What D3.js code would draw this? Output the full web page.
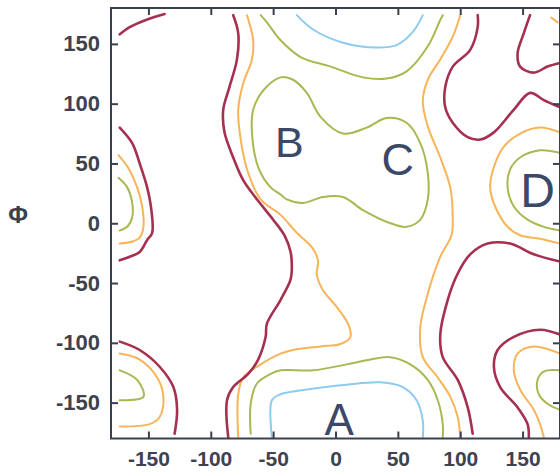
<!DOCTYPE html>
<html>
<head>
<meta charset="utf-8">
<script src="https://cdn.jsdelivr.net/npm/d3@7"></script>
<style>
  body { margin: 0; background: #fff; }
  svg { display: block; }
</style>
</head>
<body>
<svg id="chart" width="560" height="474"></svg>
<script>
// tick values
var xTicks = [-150, -100, -50, 0, 50, 100, 150];
var yTicks = [-150, -100, -50, 0, 50, 100, 150];

// contour lines, [x, y] in degrees
var maroonLines = [
  [[-173,158],[-165,164],[-152,170],[-137,175]],
  [[-173,80],[-163,67],[-157,50],[-151,30],[-148,14],[-147,-8],[-151,-14],[-157,-24],[-165,-28],[-173,-31]],
  [[-82,174],[-78,159],[-79,137],[-85,114],[-90,95],[-89,76],[-82,55],[-74,36],[-63,20],[-50,3],[-41,-10],[-36,-24],[-35,-36],[-36,-47],[-44,-64],[-55,-84],[-56,-95],[-62,-114],[-70,-126],[-82,-137],[-87,-148],[-86,-179]],
  [[114,174],[114,164],[108,145],[94,131],[88,114],[88,97],[94,84],[106,72],[116,70],[127,76],[143,95],[156,109],[167,103],[180,97]],
  [[156,174],[151,159],[146,142],[148,131],[159,126],[170,131],[180,134]],
  [[180,-32],[159,-26],[140,-17],[122,-17],[108,-26],[98,-42],[90,-64],[84,-93],[86,-112],[98,-131],[106,-154],[110,-176]],
  [[180,-93],[164,-89],[143,-95],[130,-106],[127,-120],[132,-137],[146,-154],[154,-168],[155,-179]],
  [[-173,-99],[-157,-106],[-141,-120],[-130,-137],[-127,-156],[-129,-176]]
];

var orangeLines = [
  [[-174,57],[-166,46],[-159,30],[-155,14],[-154,-3],[-157,-12],[-162,-15],[-173,-17]],
  [[-71,174],[-66,153],[-67,137],[-74,117],[-78,95],[-76,70],[-70,42],[-60,20],[-44,7],[-31,-8],[-19,-20],[-14,-31],[-15,-43],[-10,-56],[1,-70],[10,-84],[12,-95],[4,-101],[-12,-103],[-34,-106],[-44,-109],[-60,-118],[-74,-129],[-78,-143],[-78,-179]],
  [[100,174],[94,156],[84,137],[74,120],[70,102],[74,81],[84,55],[92,30],[94,5],[93,-10],[84,-28],[74,-59],[68,-87],[70,-112],[82,-129],[92,-145],[98,-162],[100,-179]],
  [[180,76],[164,80],[148,75],[135,64],[127,47],[124,30],[128,14],[138,-3],[148,-10],[164,-13],[180,-17]],
  [[173,172],[178,168]],
  [[180,-109],[159,-103],[146,-109],[143,-123],[148,-139],[159,-156],[164,-168],[167,-179]],
  [[-173,-109],[-157,-114],[-143,-129],[-138,-145],[-141,-162],[-149,-168],[-173,-170]]
];

var greenLines = [
  [[-174,38],[-167,30],[-163,17],[-163,5],[-167,-3],[-173,-6]],
  [[-60,174],[-55,168],[-44,153],[-28,139],[-4,131],[22,122],[41,121],[57,127],[74,148],[84,170],[86,174]],
  [[180,59],[164,61],[148,55],[140,45],[138,30],[143,14],[154,3],[167,-3],[180,-6]],
  [[-68,-176],[-68,-151],[-63,-134],[-52,-126],[-44,-123],[-18,-123],[9,-118],[28,-114],[44,-112],[60,-118],[74,-131],[82,-148],[86,-168],[86,-179]],
  [[180,-123],[167,-124],[162,-131],[163,-143],[170,-151],[180,-156]],
  [[-173,-123],[-159,-131],[-154,-145],[-173,-148]]
];

// closed loop around B and C
var greenLoop = [[-44,122],[-58,111],[-66,95],[-67,76],[-62,47],[-52,30],[-44,24],[-39,20],[-26,17],[-10,22],[6,22],[22,11],[44,0],[57,-3],[68,3],[74,20],[74,42],[68,67],[57,84],[41,88],[25,80],[6,75],[-12,89],[-23,109],[-34,120]];

var blueLines = [
  [[-31,174],[-18,162],[6,151],[33,147],[49,149],[62,160],[70,174]],
  [[-51,-179],[-51,-148],[-44,-143],[-23,-139],[9,-135],[36,-133],[54,-137],[65,-148],[70,-165],[70,-179]]
];

// region labels (position = baseline centre)
var regionNames = ["A", "B", "C", "D"];
var regionPos = [[3, -177], [-37, 55], [50, 40], [162, 14]];
var regionSize = [44, 43, 45, 48];

var svg = d3.select("#chart");

var x = d3.scaleLinear().domain([-180, 180]).range([111, 560]);
var y = d3.scaleLinear().domain([-180, 180]).range([438.5, 8]);

var line = d3.line()
  .x(function(d) { return x(d[0]); })
  .y(function(d) { return y(d[1]); })
  .curve(d3.curveCatmullRom.alpha(0.5));

var loop = d3.line()
  .x(function(d) { return x(d[0]); })
  .y(function(d) { return y(d[1]); })
  .curve(d3.curveCatmullRomClosed.alpha(0.5));

function drawSet(lines, color, width) {
  svg.append("g").selectAll("path")
    .data(lines)
    .enter().append("path")
    .attr("d", line)
    .attr("fill", "none")
    .attr("stroke", color)
    .attr("stroke-width", width)
    .attr("stroke-linecap", "round")
    .attr("stroke-linejoin", "round");
}

drawSet(blueLines, "#8ecbf0", 2);
drawSet(greenLines, "#aab752", 2);
svg.append("path")
  .attr("d", loop(greenLoop))
  .attr("fill", "none")
  .attr("stroke", "#aab752")
  .attr("stroke-width", 2);
drawSet(orangeLines, "#f8b459", 2);
drawSet(maroonLines, "#a5304f", 2.6);

// frame
var axisColor = "#3b4050";
svg.append("rect")
  .attr("x", x(-180)).attr("y", y(180))
  .attr("width", x(180) - x(-180)).attr("height", y(-180) - y(180))
  .attr("fill", "none").attr("stroke", axisColor).attr("stroke-width", 2);

// axes with inward ticks, plain hyphen minus
var fmt = function(d) { return String(d); };
var xAxisB = d3.axisBottom(x).tickValues(xTicks).tickSize(-7).tickPadding(13).tickFormat(fmt);
var xAxisT = d3.axisTop(x).tickValues(xTicks).tickSize(-7).tickFormat("");
var yAxisL = d3.axisLeft(y).tickValues(yTicks).tickSize(-7).tickPadding(11).tickFormat(fmt);
var yAxisR = d3.axisRight(y).tickValues(yTicks).tickSize(-7).tickFormat("");

function styleAxis(g) {
  g.select(".domain").remove();
  g.selectAll(".tick line").attr("stroke", axisColor).attr("stroke-width", 2);
  g.selectAll(".tick text")
    .attr("fill", "#3e4250")
    .style("font-family", "'Liberation Sans', Arial, sans-serif")
    .style("font-weight", "bold")
    .style("font-size", "21px");
}

svg.append("g").attr("transform", "translate(0," + y(-180) + ")").call(xAxisB).call(styleAxis);
svg.append("g").attr("transform", "translate(0," + y(180) + ")").call(xAxisT).call(styleAxis);
svg.append("g").attr("transform", "translate(" + x(-180) + ",0)").call(yAxisL).call(styleAxis)
  .selectAll(".tick text").style("font-size", "22px");
svg.append("g").attr("transform", "translate(" + x(180) + ",0)").call(yAxisR).call(styleAxis);

// axis title
svg.append("text")
  .attr("x", 18).attr("y", 223)
  .attr("text-anchor", "middle")
  .attr("fill", "#3b4050")
  .style("font-family", "'Liberation Sans', Arial, sans-serif")
  .style("font-weight", "bold")
  .style("font-size", "24px")
  .text("Φ");

// region letters
svg.append("g").selectAll("text")
  .data(regionNames)
  .enter().append("text")
  .attr("x", function(d, i) { return x(regionPos[i][0]); })
  .attr("y", function(d, i) { return y(regionPos[i][1]); })
  .attr("text-anchor", "middle")
  .attr("fill", "#3c4868")
  .style("font-family", "'Liberation Sans', Arial, sans-serif")
  .style("font-size", function(d, i) { return regionSize[i] + "px"; })
  .text(function(d) { return d; });
</script>
</body>
</html>
